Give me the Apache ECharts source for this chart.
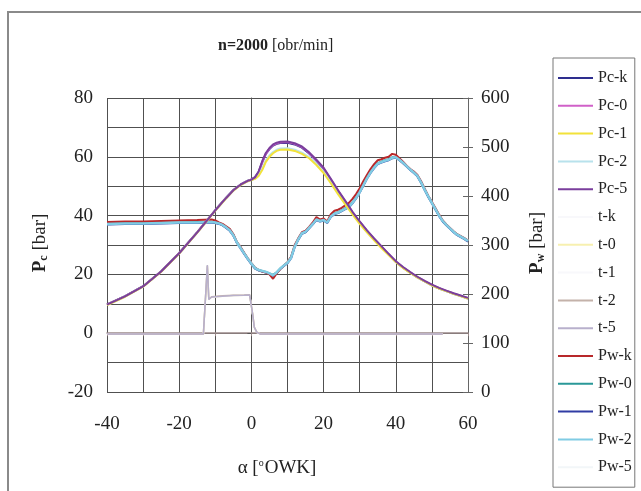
<!DOCTYPE html>
<html><head><meta charset="utf-8">
<script src="https://cdn.jsdelivr.net/npm/echarts@6/dist/echarts.min.js"></script>
<style>html,body{margin:0;padding:0;background:#fff}#c{width:641px;height:491px}</style>
</head><body><div id="c"></div>
<script>
// ---- data ----
const pcX = [-40,-35,-30,-25,-20,-15,-10,-7,-5,-3,-1,0,1,2,3,4,5,6,7,8,10,12,14,16,18,20,22,24,26,28,30,32,34,36,38,40,42,44,46,48,50,52,54,56,58,60];
const pcK = [9.8,12.6,16.0,21.1,27.3,34.4,41.9,46.1,48.7,50.6,51.9,52.3,53.1,54.8,58.2,61.0,62.6,63.8,64.4,64.7,64.8,64.2,63.1,61.1,58.6,55.9,52.1,48.3,44.7,41.0,37.8,34.8,32.0,29.4,26.8,24.3,22.3,20.6,19.0,17.6,16.3,15.2,14.3,13.4,12.6,11.8];
const pc0 = [9.7,12.5,15.9,21.0,27.2,34.3,41.8,46.0,48.6,50.5,51.8,52.2,53.0,54.6,58.0,61.0,62.8,64.0,64.6,64.9,65.0,64.4,63.3,61.3,58.8,56.1,52.3,48.5,44.9,41.2,37.9,34.9,32.1,29.5,26.9,24.4,22.4,20.7,19.1,17.7,16.4,15.3,14.4,13.5,12.7,11.9];
const pc1 = [9.6,12.4,15.8,20.9,27.1,34.2,41.7,45.9,48.5,50.4,51.7,52.1,52.5,53.5,55.5,58.3,60.0,61.2,62.0,62.4,62.5,62.0,61.0,59.5,57.2,54.5,51.0,47.3,43.8,40.4,37.2,34.3,31.6,29.0,26.6,24.2,22.2,20.5,19.0,17.6,16.3,15.2,14.3,13.4,12.6,11.8];
const pc2 = [9.6,12.4,15.8,20.9,27.1,34.2,41.7,45.9,48.5,50.4,51.7,52.1,52.6,53.8,56.0,58.8,60.5,61.6,62.4,62.8,62.9,62.4,61.4,59.9,57.6,54.9,51.4,47.7,44.1,40.7,37.5,34.5,31.8,29.2,26.8,24.3,22.3,20.6,19.0,17.6,16.3,15.2,14.3,13.4,12.6,11.8];
const pc5 = [9.7,12.5,15.9,21.0,27.2,34.3,41.8,46.0,48.6,50.5,51.8,52.2,53.0,55.0,58.5,61.3,63.0,64.2,64.8,65.1,65.2,64.6,63.5,61.5,59.0,56.3,52.5,48.6,45.0,41.3,38.0,35.0,32.2,29.6,27.0,24.5,22.5,20.8,19.2,17.8,16.5,15.4,14.5,13.6,12.8,12.0];

const tX  = [-40,-30,-20,-14,-13.3,-12.2,-11.8,-11,-8,-5,-2,-0.5,0,0.4,0.8,1.5,2.5,10,20,30,40,50,53];
const tK  = [-0.3,-0.3,-0.3,-0.3,-0.3,23.0,11.5,12.3,12.6,12.8,12.9,13.0,12.5,6.0,2.0,0.3,-0.3,-0.3,-0.3,-0.3,-0.3,-0.3,-0.3];
const t0  = [-0.3,-0.3,-0.3,-0.3,-0.3,23.0,11.5,12.3,12.6,12.8,12.9,13.0,12.5,6.0,2.0,0.3,-0.3,-0.3,-0.3,-0.3,-0.3,-0.3,-0.3];
const t1  = [-0.3,-0.3,-0.3,-0.3,-0.3,23.0,11.5,12.3,12.6,12.8,12.9,13.0,12.5,6.0,2.0,0.3,-0.3,-0.3,-0.3,-0.3,-0.3,-0.3,-0.3];
const t2  = [-0.3,-0.3,-0.3,-0.3,-0.3,22.8,11.6,12.4,12.7,12.9,13.0,13.1,12.6,6.2,2.1,0.4,-0.3,-0.3,-0.3,-0.3,-0.3,-0.3,-0.3];
const t5  = [-0.3,-0.3,-0.3,-0.3,-0.3,23.2,11.5,12.3,12.6,12.8,12.9,13.0,12.5,6.0,2.0,0.3,-0.3,-0.3,-0.3,-0.3,-0.3,-0.3,-0.3];

const pwX = [-40,-35,-30,-25,-20,-15,-11,-10,-9,-8,-7,-6,-5,-4,-3,-2,-1,0,1,2,3,4,5,6,7,8,9,10,11,12,13,14,15,16,17,18,19,20,21,22,23,24,25,26,27,28,29,30,31,32,33,34,35,36,37,38,39,40,41,42,43,44,45,46,47,48,49,50,51,52,53,54,55,56,57,58,59,60];
const pwK = [347,348,348,349,350,351,352,350,346,343,338,333,322,306,296,284,273,263,254,249,246,244,240,231,242,251,258,265,276,300,314,326,329,337,346,357,352,354,348,363,370,372,376,381,386,394,404,416,430,443,455,465,473,475,478,480,486,484,477,470,462,455,450,443,430,415,400,388,375,362,350,342,335,328,322,318,314,309];
const pw0 = [344,345,345,346,346,347,347,346,344,341,336,331,321,305,295,283,272,262,253,249,247,245,242,239,244,252,258,264,275,298,312,324,327,335,343,353,349,351,346,359,365,367,371,375,379,387,397,409,423,437,449,459,467,470,473,475,479,479,474,468,461,454,448,441,428,413,399,386,373,360,349,341,334,327,321,317,313,308];
const pw1 = [342,343,343,344,345,345,346,345,343,340,335,329,319,304,293,282,271,261,252,248,246,244,241,237,243,251,257,263,273,296,311,323,326,334,342,351,348,350,345,357,363,365,369,373,377,385,395,407,421,435,447,457,465,468,471,473,477,478,473,467,460,453,447,440,427,412,398,385,372,359,348,340,333,326,320,316,312,307];
const pw2 = [343,344,344,345,346,346,347,346,344,341,336,330,320,305,294,283,272,262,253,249,247,245,242,238,244,252,258,264,274,297,312,324,327,335,343,352,349,351,346,358,364,366,370,374,378,386,396,408,422,436,448,458,466,469,472,474,478,479,474,468,461,454,448,441,428,413,399,386,373,360,349,341,334,327,321,317,313,308];
const pw5 = [343,344,344,345,346,346,347,346,344,341,336,330,320,305,294,283,272,262,253,249,247,245,242,238,244,252,258,264,274,297,312,324,327,335,343,352,349,351,346,358,364,366,370,374,378,386,396,408,422,436,448,458,466,469,472,474,478,479,474,468,461,454,448,441,428,413,399,386,373,360,349,341,334,327,321,317,313,308];

const xTicks = [-40,-20,0,20,40,60];
const leftTicks = [-20,0,20,40,60,80];
const rightTicks = [0,100,200,300,400,500,600];

// ---- chart ----
const zip = (xs, ys) => xs.map((x, i) => [x, ys[i]]);
const FONT = 'Liberation Serif';
function ser(name, xs, ys, color, axis, width, z) {
  return { name, type: 'line', data: zip(xs, ys), yAxisIndex: axis, showSymbol: false, symbol: 'none',
    color, lineStyle: { color, width }, itemStyle: { color }, z, animation: false };
}
const series = [
  ser('Pc-k', pcX, pcK, '#2e2e8e', 0, 2, 6),
  ser('Pc-0', pcX, pc0, '#d060c8', 0, 2, 6),
  ser('Pc-1', pcX, pc1, '#f2e23a', 0, 2, 7),
  ser('Pc-2', pcX, pc2, '#b8e2ec', 0, 2, 6),
  ser('Pc-5', pcX, pc5, '#7a3e9c', 0, 2, 7),
  ser('t-k', tX, tK, '#f8f8fb', 0, 1.5, 2),
  ser('t-0', tX, t0, '#f7f0b0', 0, 1.5, 2),
  ser('t-1', tX, t1, '#f8f8fb', 0, 1.5, 2),
  ser('t-2', tX, t2, '#c4b2aa', 0, 1.5, 3),
  ser('t-5', tX, t5, '#b8b0cc', 0, 1.5, 3),
  ser('Pw-k', pwX, pwK, '#b8282a', 1, 2, 5),
  ser('Pw-0', pwX, pw0, '#2a9898', 1, 2, 4),
  ser('Pw-1', pwX, pw1, '#303ca4', 1, 2, 4),
  ser('Pw-2', pwX, pw2, '#80cce4', 1, 2.5, 5),
  ser('Pw-5', pwX, pw5, '#f2f6f8', 1, 3, 1)
];

const chart = echarts.init(document.getElementById('c'), null, { renderer: 'canvas' });
chart.setOption({
  animation: false,
  backgroundColor: '#ffffff',
  title: {
    text: '{b|n=2000} [obr/min]', left: 213, top: 33,
    textStyle: { fontFamily: FONT, fontSize: 16, fontWeight: 'normal', color: '#222',
      rich: { b: { fontFamily: FONT, fontSize: 16, fontWeight: 'bold', color: '#222' } } }
  },
  legend: {
    orient: 'vertical', left: 553, top: 58,
    padding: [12, 3, 12, 5], itemGap: 11.8, itemWidth: 35, itemHeight: 2,
    icon: 'rect', borderColor: '#777', borderWidth: 1, backgroundColor: '#fff',
    textStyle: { fontFamily: FONT, fontSize: 16, color: '#222', lineHeight: 16 },
    data: series.map(s => s.name)
  },
  grid: { left: 107, right: 173, top: 98, bottom: 99, containLabel: false },
  xAxis: {
    type: 'value', min: -40, max: 60, interval: 10,
    axisLine: { show: true, lineStyle: { color: '#9c8a8a', width: 1.5 } },
    axisTick: { show: true, length: 3, lineStyle: { color: '#9c8a8a' } },
    axisLabel: { margin: 23, fontFamily: FONT, fontSize: 19, color: '#222',
      formatter: v => xTicks.includes(v) ? String(v) : '' },
    splitLine: { show: true, lineStyle: { color: '#505050', width: 1 } }
  },
  yAxis: [
    { type: 'value', min: -20, max: 80, interval: 10, position: 'left',
      axisLine: { show: true, lineStyle: { color: '#555', width: 1 } },
      axisTick: { show: true, length: 4, lineStyle: { color: '#555' } },
      axisLabel: { margin: 14, fontFamily: FONT, fontSize: 19, color: '#222',
        formatter: v => leftTicks.includes(v) ? String(v) : '' },
      splitLine: { show: true, lineStyle: { color: '#505050', width: 1 } } },
    { type: 'value', min: 0, max: 600, interval: 100, position: 'right',
      axisLine: { show: true, lineStyle: { color: '#666', width: 1 } },
      axisTick: { show: true, length: 5, lineStyle: { color: '#666' } },
      axisLabel: { margin: 13, fontFamily: FONT, fontSize: 19, color: '#222',
        formatter: v => rightTicks.includes(v) ? String(v) : '' },
      splitLine: { show: false } },
    { type: 'value', min: 0, max: 600, interval: 100, position: 'right',
      axisLine: { show: false },
      axisTick: { show: true, inside: true, length: 5, lineStyle: { color: '#666' } },
      axisLabel: { show: false }, splitLine: { show: false } }
  ],
  graphic: [
    { type: 'rect', z: -10, shape: { x: 8, y: 12, width: 700, height: 600 },
      style: { fill: 'none', stroke: '#8a8a8a', lineWidth: 2 } },
    { type: 'text', x: 277, y: 468,
      style: { text: 'α [{sup|o}OWK]', fill: '#222', font: '19px ' + FONT, align: 'center', verticalAlign: 'middle',
        rich: { sup: { fontFamily: FONT, fontSize: 10, verticalAlign: 'top', padding: [0, 1, 8, 0], fill: '#222' } } } },
    { type: 'text', x: 40, y: 243, rotation: Math.PI / 2,
      style: { text: '{b|P}{sub|c} [bar]', fill: '#222', font: '19px ' + FONT, align: 'center', verticalAlign: 'middle',
        rich: { b: { fontFamily: FONT, fontSize: 19, fontWeight: 'bold', fill: '#222' },
                sub: { fontFamily: FONT, fontSize: 12, fontWeight: 'bold', padding: [8, 0, 0, 0], fill: '#222' } } } },
    { type: 'text', x: 537, y: 243, rotation: Math.PI / 2,
      style: { text: '{b|P}{sub|w} [bar]', fill: '#222', font: '19px ' + FONT, align: 'center', verticalAlign: 'middle',
        rich: { b: { fontFamily: FONT, fontSize: 19, fontWeight: 'bold', fill: '#222' },
                sub: { fontFamily: FONT, fontSize: 12, fontWeight: 'bold', padding: [8, 0, 0, 0], fill: '#222' } } } }
  ],
  series
});
</script></body></html>
